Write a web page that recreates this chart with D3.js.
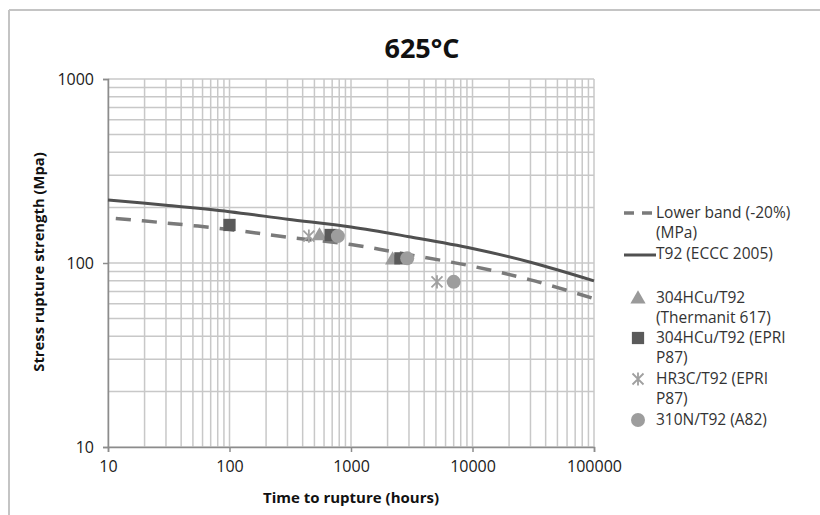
<!DOCTYPE html>
<html><head><meta charset="utf-8">
<script src="https://cdn.jsdelivr.net/npm/d3@7"></script>
<style>html,body{margin:0;padding:0;background:#fff;}svg{display:block;font-family:"Open Sans",sans-serif;}</style>
</head><body>
<svg id="c" width="820" height="515"></svg>
<script>
// ---- data ----
const curveHours = [10, 30, 100, 300, 1000, 3000, 10000, 30000, 100000];
const t92 = [220, 206, 190, 173, 157, 139, 120, 101, 80];
const lowerBand = [176, 165, 152, 138, 126, 111, 96, 81, 64];
const triHours = [550, 2200];            const triStress = [142, 105];
const sqHours = [100, 680, 2550];        const sqStress = [161, 142, 106];
const starHours = [450, 5100];           const starStress = [140, 79];
const circHours = [780, 2900, 7000];     const circStress = [140, 106, 79];
const xTickLabels = ["10", "100", "1000", "10000", "100000"];
const yTickLabels = ["10", "100", "1000"];
const titleText = "625°C";
const xTitle = "Time to rupture (hours)";
const yTitle = "Stress rupture strength (Mpa)";

const svg = d3.select("#c");
const L = 108, R = 594, T = 79, B = 447;
const x = d3.scaleLog().domain([10, 100000]).range([L, R]);
const y = d3.scaleLog().domain([10, 1000]).range([B, T]);

// outer frame
svg.append("line").attr("x1", 9).attr("x2", 9).attr("y1", 10).attr("y2", 515).attr("stroke", "#c4c4c4").attr("stroke-width", 2);
svg.append("line").attr("x1", 9).attr("x2", 820).attr("y1", 10).attr("y2", 10).attr("stroke", "#c4c4c4").attr("stroke-width", 2);

// grid
const gridX = [], gridY = [];
for (let e = 1; e <= 5; e++) for (let m = 1; m <= 9; m++) { const v = m * Math.pow(10, e); if (v >= 10 && v <= 100000) gridX.push(v); }
for (let e = 1; e <= 3; e++) for (let m = 1; m <= 9; m++) { const v = m * Math.pow(10, e); if (v >= 10 && v <= 1000) gridY.push(v); }
const g = svg.append("g");
g.selectAll(".gx").data(gridX).join("line").attr("x1", d => x(d)).attr("x2", d => x(d)).attr("y1", T).attr("y2", B)
  .attr("stroke", "#c8c8c8").attr("stroke-width", 1.5);
g.selectAll(".gy").data(gridY).join("line").attr("y1", d => y(d)).attr("y2", d => y(d)).attr("x1", L).attr("x2", R)
  .attr("stroke", "#c8c8c8").attr("stroke-width", 1.5);

// axes
const xAxis = d3.axisBottom(x).tickValues([10, 100, 1000, 10000, 100000]).tickFormat((d, i) => xTickLabels[i]).tickSize(5).tickPadding(9);
const yAxis = d3.axisLeft(y).tickValues([10, 100, 1000]).tickFormat((d, i) => yTickLabels[i]).tickSize(5).tickPadding(9);
const gx = svg.append("g").attr("transform", `translate(0,${B})`).call(xAxis);
const gy = svg.append("g").attr("transform", `translate(${L},0)`).call(yAxis);
[gx, gy].forEach(a => {
  a.select(".domain").attr("stroke", "#8c8c8c").attr("stroke-width", 1.5);
  a.selectAll(".tick line").attr("stroke", "#8c8c8c").attr("stroke-width", 1.5);
  a.selectAll("text").attr("font-family", "Open Sans").attr("font-size", 16).attr("fill", "#1a1a1a");
});

// titles
svg.append("text").attr("x", 422).attr("y", 58).attr("text-anchor", "middle").attr("font-weight", "bold")
  .attr("font-size", 27).attr("fill", "#111").text(titleText);
svg.append("text").attr("x", 351).attr("y", 503).attr("text-anchor", "middle").attr("font-weight", "bold")
  .attr("font-size", 15).attr("fill", "#111").text(xTitle);
svg.append("text").attr("transform", "translate(44,262) rotate(-90)").attr("text-anchor", "middle").attr("font-weight", "bold")
  .attr("font-size", 14.8).attr("fill", "#111").text(yTitle);

// lines
const line = d3.line().x(d => x(d[0])).y(d => y(d[1])).curve(d3.curveCatmullRom.alpha(0.5));
svg.append("path").datum(curveHours.map((h, i) => [h, lowerBand[i]])).attr("d", line)
  .attr("fill", "none").attr("stroke", "#7a7a7a").attr("stroke-width", 3.5).attr("stroke-dasharray", "15,11").attr("stroke-dashoffset", 18);
svg.append("path").datum(curveHours.map((h, i) => [h, t92[i]])).attr("d", line)
  .attr("fill", "none").attr("stroke", "#505050").attr("stroke-width", 3);

// markers
const sym = (type, size) => d3.symbol().type(type).size(size)();
function starPath(s) {
  return `M${-s},${-s}L${s},${s}M${-s},${s}L${s},${-s}M0,${-s * 1.2}L0,${s * 1.2}`;
}
function drawTri(sel, cx, cy) { sel.append("path").attr("d", sym(d3.symbolTriangle, 100)).attr("transform", `translate(${cx},${cy + 1})`).attr("fill", "#9a9a9a"); }
function drawSq(sel, cx, cy) { sel.append("path").attr("d", sym(d3.symbolSquare, 150)).attr("transform", `translate(${cx},${cy})`).attr("fill", "#5a5a5a"); }
function drawStar(sel, cx, cy) { sel.append("path").attr("d", starPath(5.5)).attr("transform", `translate(${cx},${cy})`).attr("fill", "none").attr("stroke", "#a0a0a0").attr("stroke-width", 1.8); }
function drawCirc(sel, cx, cy) { sel.append("circle").attr("cx", cx).attr("cy", cy).attr("r", 7).attr("fill", "#9d9d9d"); }

const mk = svg.append("g");
triHours.forEach((h, i) => drawTri(mk, x(h), y(triStress[i])));
sqHours.forEach((h, i) => drawSq(mk, x(h), y(sqStress[i])));
starHours.forEach((h, i) => drawStar(mk, x(h), y(starStress[i])));
circHours.forEach((h, i) => drawCirc(mk, x(h), y(circStress[i])));

// legend
const lg = svg.append("g").attr("font-size", 15.5).attr("fill", "#333");
const tx = 656;
const lines = [
  ["Lower band (-20%)", 218], ["(MPa)", 238], ["T92 (ECCC 2005)", 259],
  ["304HCu/T92", 303], ["(Thermanit 617)", 323], ["304HCu/T92 (EPRI", 343], ["P87)", 363],
  ["HR3C/T92 (EPRI", 384], ["P87)", 404], ["310N/T92 (A82)", 425]
];
lg.selectAll("text").data(lines).join("text").attr("x", tx).attr("y", d => d[1]).text(d => d[0]);
lg.append("line").attr("x1", 624).attr("x2", 652).attr("y1", 213).attr("y2", 213).attr("stroke", "#7a7a7a").attr("stroke-width", 3.5).attr("stroke-dasharray", "10,8");
lg.append("line").attr("x1", 624).attr("x2", 656).attr("y1", 255).attr("y2", 255).attr("stroke", "#505050").attr("stroke-width", 3);
drawTri(lg, 638, 298);
drawSq(lg, 638, 338);
drawStar(lg, 638, 379);
drawCirc(lg, 638, 420);
</script>
</body></html>
